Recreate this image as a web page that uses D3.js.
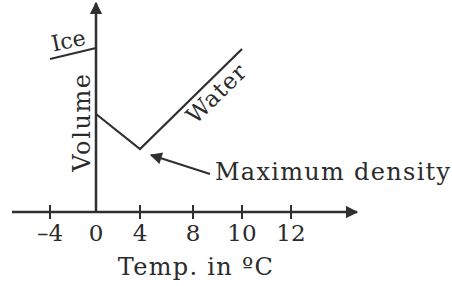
<!DOCTYPE html>
<html>
<head>
<meta charset="utf-8">
<script src="https://cdn.jsdelivr.net/npm/d3@7"></script>
<style>
  body { margin: 0; background: #fff; }
  text { font-family: "DejaVu Serif", serif; fill: #2b2b2b; }
</style>
</head>
<body>
<div id="chart"></div>
<script>
// data (volume in arbitrary units)
const tickTemps = [-4, 0, 4, 8, 10, 12]
const tickLabels = ['\u20134', '0', '4', '8', '10', '12']
const iceTemps = [-4, 0]
const iceVolume = [7.65, 8.2]
const waterTemps = [0, 4, 10]
const waterVolume = [4.9, 3.15, 8.15]

const W = 452, H = 286
const ink = '#2f2f2f'

// the drawing is schematic: tick spacing is uneven, so map piecewise
const x = d3.scaleLinear().domain(tickTemps).range([50, 96, 140, 193, 242, 291])
const y = d3.scaleLinear().domain([0, 10]).range([212, 12])

let svg = d3.select('#chart').append('svg')
  .attr('width', W).attr('height', H)

let defs = svg.append('defs')
defs.append('marker').attr('id', 'head')
  .attr('viewBox', '0 0 10 10').attr('refX', 9).attr('refY', 5)
  .attr('markerWidth', 5).attr('markerHeight', 5)
  .attr('markerUnits', 'strokeWidth').attr('orient', 'auto')
  .append('path').attr('d', 'M0,0L10,5L0,10z').attr('fill', ink)
defs.append('marker').attr('id', 'small')
  .attr('viewBox', '0 0 10 10').attr('refX', 9).attr('refY', 5)
  .attr('markerWidth', 7).attr('markerHeight', 6)
  .attr('markerUnits', 'strokeWidth').attr('orient', 'auto')
  .append('path').attr('d', 'M0,0L10,5L0,10z').attr('fill', ink)

const y0 = y(0), x0 = x(0)

// axes
svg.append('line').attr('x1', 12).attr('x2', 357).attr('y1', y0).attr('y2', y0)
  .attr('stroke', ink).attr('stroke-width', 2.5).attr('marker-end', 'url(#head)')
svg.append('line').attr('x1', x0).attr('x2', x0).attr('y1', y0).attr('y2', 3)
  .attr('stroke', ink).attr('stroke-width', 2.5).attr('marker-end', 'url(#head)')

let ticks = svg.append('g').selectAll('g').data(tickTemps).enter().append('g')
  .attr('transform', d => `translate(${x(d)},${y0})`)
ticks.filter(d => d !== 0).append('line')
  .attr('y1', -7).attr('y2', 7).attr('stroke', ink).attr('stroke-width', 2)
ticks.append('text').text((d, i) => tickLabels[i])
  .attr('y', 29).attr('text-anchor', 'middle').attr('font-size', 23)

svg.append('text').text('Temp. in \u00baC')
  .attr('x', 196).attr('y', 275).attr('text-anchor', 'middle')
  .attr('font-size', 24).attr('letter-spacing', 1.3)

svg.append('text').text('Volume')
  .attr('transform', `translate(90,122) rotate(-90)`)
  .attr('text-anchor', 'middle').attr('font-size', 24).attr('letter-spacing', 1.6)

// curves
const line = d3.line().x(d => x(d[0])).y(d => y(d[1]))
svg.append('path').datum(d3.zip(iceTemps, iceVolume))
  .attr('d', line).attr('fill', 'none').attr('stroke', ink).attr('stroke-width', 2.2)
svg.append('path').datum(d3.zip(waterTemps, waterVolume))
  .attr('d', line).attr('fill', 'none').attr('stroke', ink).attr('stroke-width', 2.2)

// labels on the curves
svg.append('text').text('Ice')
  .attr('transform', `translate(70,48) rotate(-12)`)
  .attr('text-anchor', 'middle').attr('font-size', 22)

const angle = Math.atan2(y(waterVolume[2]) - y(waterVolume[1]), x(waterTemps[2]) - x(waterTemps[1])) * 180 / Math.PI
svg.append('text').text('Water')
  .attr('transform', `translate(222,99) rotate(${angle})`)
  .attr('text-anchor', 'middle').attr('font-size', 23).attr('letter-spacing', 1)

// annotation for the minimum
const mx = x(waterTemps[1]), my = y(waterVolume[1])
svg.append('line').attr('x1', 210).attr('y1', 174).attr('x2', mx + 11).attr('y2', my + 6)
  .attr('stroke', ink).attr('stroke-width', 2).attr('marker-end', 'url(#small)')
svg.append('text').text('Maximum density')
  .attr('x', 215).attr('y', 180).attr('font-size', 24).attr('letter-spacing', 1.3)
</script>
</body>
</html>
